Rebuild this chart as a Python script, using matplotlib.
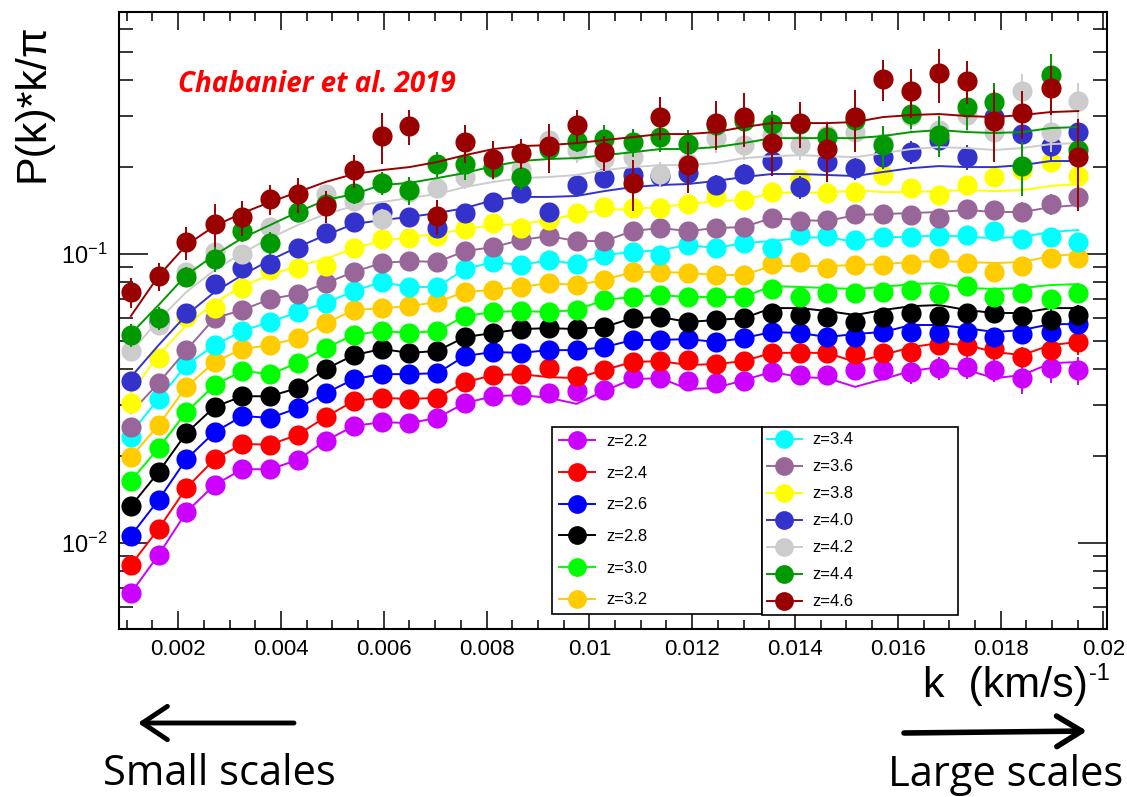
import numpy as np
import matplotlib
matplotlib.use('Agg')
import matplotlib.pyplot as plt
from matplotlib.lines import Line2D
from matplotlib.ticker import FixedLocator, FixedFormatter, LogLocator, NullFormatter

plt.rcParams['font.family'] = ['Liberation Sans', 'DejaVu Sans']
plt.rcParams['mathtext.fontset'] = 'custom'
plt.rcParams['mathtext.rm'] = 'Liberation Sans'

# k bins (s/km)
k = [0.00108, 0.00162, 0.00216, 0.00271, 0.00325, 0.00379, 0.00433, 0.00487,
     0.00542, 0.00596, 0.00650, 0.00704, 0.00758, 0.00813, 0.00867, 0.00921,
     0.00975, 0.01029, 0.01084, 0.01138, 0.01192, 0.01246, 0.01300, 0.01355,
     0.01409, 0.01463, 0.01517, 0.01571, 0.01626, 0.01680, 0.01734, 0.01788,
     0.01842, 0.01897, 0.01951]

redshifts = ['2.2', '2.4', '2.6', '2.8', '3.0', '3.2', '3.4', '3.6', '3.8', '4.0', '4.2', '4.4', '4.6']
colors = ['#cc00ff', '#ff0000', '#0000ff', '#000000', '#00ff00', '#ffcc00', '#00ffff',
          '#996699', '#ffff00', '#3333cc', '#cccccc', '#009900', '#990000']

# measured P(k)*k/pi
pk_22 = [0.00671, 0.00909, 0.0128, 0.0159, 0.0180, 0.0180, 0.0194, 0.0226, 0.0254, 0.0262,
         0.0260, 0.0271, 0.0305, 0.0322, 0.0325, 0.0330, 0.0336, 0.0338, 0.0372, 0.0372,
         0.0363, 0.0358, 0.0363, 0.0391, 0.0381, 0.0381, 0.0397, 0.0397, 0.0391, 0.0403,
         0.0406, 0.0397, 0.0372, 0.0403, 0.0397]
pk_24 = [0.00839, 0.0112, 0.0155, 0.0195, 0.0220, 0.0219, 0.0237, 0.0273, 0.0310, 0.0318,
         0.0315, 0.0318, 0.0360, 0.0381, 0.0384, 0.0403, 0.0378, 0.0397, 0.0423, 0.0426,
         0.0430, 0.0416, 0.0426, 0.0455, 0.0455, 0.0455, 0.0451, 0.0455, 0.0458, 0.0484,
         0.0480, 0.0469, 0.0440, 0.0465, 0.0496]
pk_26 = [0.0106, 0.0141, 0.0195, 0.0242, 0.0275, 0.0271, 0.0293, 0.0330, 0.0369, 0.0384,
         0.0384, 0.0387, 0.0444, 0.0458, 0.0455, 0.0465, 0.0465, 0.0476, 0.0504, 0.0504,
         0.0508, 0.0496, 0.0512, 0.0537, 0.0533, 0.0516, 0.0516, 0.0537, 0.0537, 0.0533,
         0.0537, 0.0516, 0.0529, 0.0537, 0.0572]
pk_28 = [0.0134, 0.0176, 0.0240, 0.0296, 0.0322, 0.0322, 0.0344, 0.0400, 0.0447, 0.0469,
         0.0455, 0.0462, 0.0516, 0.0533, 0.0550, 0.0554, 0.0550, 0.0559, 0.0600, 0.0605,
         0.0582, 0.0591, 0.0600, 0.0625, 0.0615, 0.0605, 0.0582, 0.0605, 0.0625, 0.0610,
         0.0625, 0.0625, 0.0610, 0.0591, 0.0615]
pk_30 = [0.0164, 0.0213, 0.0284, 0.0352, 0.0394, 0.0384, 0.0420, 0.0473, 0.0525, 0.0542,
         0.0533, 0.0542, 0.0610, 0.0630, 0.0635, 0.0630, 0.0640, 0.0694, 0.0710, 0.0721,
         0.0710, 0.0710, 0.0710, 0.0757, 0.0710, 0.0733, 0.0733, 0.0739, 0.0751, 0.0727,
         0.0775, 0.0710, 0.0733, 0.0699, 0.0733]
pk_32 = [0.0198, 0.0256, 0.0347, 0.0423, 0.0469, 0.0484, 0.0512, 0.0577, 0.0640, 0.0650,
         0.0660, 0.0682, 0.0739, 0.0751, 0.0769, 0.0793, 0.0781, 0.0813, 0.0867, 0.0867,
         0.0860, 0.0846, 0.0846, 0.0923, 0.0938, 0.0894, 0.0916, 0.0916, 0.0923, 0.0969,
         0.0931, 0.0867, 0.0909, 0.0969, 0.0969]
pk_34 = [0.0232, 0.0315, 0.0413, 0.0484, 0.0542, 0.0582, 0.0630, 0.0677, 0.0745, 0.0800,
         0.0769, 0.0769, 0.0887, 0.0938, 0.0916, 0.0953, 0.0923, 0.0992, 0.1016, 0.0992,
         0.1074, 0.1049, 0.1091, 0.1049, 0.1163, 0.1154, 0.1118, 0.1145, 0.1145, 0.1154,
         0.1163, 0.1201, 0.1127, 0.1145, 0.1100]
pk_36 = [0.0252, 0.0358, 0.0465, 0.0600, 0.0640, 0.0699, 0.0727, 0.0793, 0.0867, 0.0931,
         0.0946, 0.0938, 0.1024, 0.1057, 0.1118, 0.1154, 0.1109, 0.1109, 0.1201, 0.1230,
         0.1201, 0.1230, 0.1240, 0.1332, 0.1301, 0.1311, 0.1375, 0.1375, 0.1364, 0.1332,
         0.1431, 0.1420, 0.1398, 0.1489, 0.1576]
pk_38 = [0.0305, 0.0437, 0.0605, 0.0650, 0.0763, 0.0880, 0.0894, 0.0909, 0.1049, 0.1127,
         0.1136, 0.1154, 0.1220, 0.1280, 0.1230, 0.1311, 0.1386, 0.1454, 0.1442, 0.1442,
         0.1489, 0.1576, 0.1537, 0.1638, 0.1818, 0.1625, 0.1638, 0.1877, 0.1692, 0.1600,
         0.1733, 0.1847, 0.1952, 0.2082, 0.1862]
pk_40 = [0.0363, 0.0582, 0.0625, 0.0787, 0.0894, 0.0923, 0.1049, 0.1182, 0.1290, 0.1398,
         0.1343, 0.1230, 0.1386, 0.1513, 0.1625, 0.1398, 0.1733, 0.1832, 0.1877, 0.1862,
         0.1907, 0.1733, 0.1892, 0.2098, 0.1705, 0.2082, 0.1983, 0.2164, 0.2251, 0.2478,
         0.2164, 0.2978, 0.2601, 0.2363, 0.2643]
pk_42 = [0.0462, 0.0568, 0.0867, 0.1016, 0.1000, 0.1240, 0.1398, 0.1613, 0.1525, 0.1321,
         0.1638, 0.1692, 0.1847, 0.1983, 0.1968, 0.2478, 0.2291, 0.2132, 0.2164, 0.1892,
         0.2066, 0.2518, 0.2382, 0.2580, 0.2382, 0.2580, 0.2643, 0.2420, 0.3003, 0.2685,
         0.3027, 0.2643, 0.3662, 0.2643, 0.3385]
pk_44 = [0.0525, 0.0600, 0.0833, 0.0961, 0.1201, 0.1091, 0.1398, 0.1489, 0.1625, 0.1762,
         0.1664, 0.2048, 0.2048, 0.1999, 0.1847, 0.2308, 0.2458, 0.2498, 0.2439, 0.2539,
         0.2401, 0.2794, 0.2885, 0.2817, 0.2817, 0.2539, 0.2908, 0.2382, 0.3051, 0.2580,
         0.3226, 0.3357, 0.2015, 0.4160, 0.2291]
pk_46 = [0.0739, 0.0840, 0.1100, 0.1270, 0.1343, 0.1550, 0.1613, 0.1467, 0.1952, 0.2560,
         0.2771, 0.1354, 0.2439, 0.2132, 0.2234, 0.2363, 0.2794, 0.2251, 0.1762, 0.2978,
         0.2031, 0.2839, 0.2978, 0.2420, 0.2839, 0.2308, 0.2978, 0.4032, 0.3662, 0.4229,
         0.3970, 0.2885, 0.3075, 0.3752, 0.2164]

# relative uncertainties
err_22 = [0.02, 0.02, 0.02, 0.02, 0.02, 0.02, 0.02, 0.03, 0.03, 0.03, 0.03, 0.03, 0.03, 0.03,
          0.03, 0.04, 0.04, 0.04, 0.04, 0.04, 0.05, 0.05, 0.05, 0.05, 0.05, 0.06, 0.07, 0.065,
          0.09, 0.09, 0.09, 0.09, 0.12, 0.11, 0.11]
err_24 = [0.02, 0.02, 0.02, 0.02, 0.02, 0.02, 0.02, 0.02, 0.03, 0.03, 0.03, 0.03, 0.03, 0.03,
          0.03, 0.03, 0.04, 0.04, 0.04, 0.04, 0.04, 0.05, 0.05, 0.05, 0.05, 0.05, 0.06, 0.06,
          0.07, 0.07, 0.07, 0.08, 0.08, 0.08, 0.10]
err_26 = [0.02, 0.02, 0.02, 0.02, 0.02, 0.02, 0.02, 0.02, 0.02, 0.03, 0.03, 0.03, 0.03, 0.03,
          0.03, 0.03, 0.03, 0.04, 0.04, 0.04, 0.04, 0.04, 0.04, 0.05, 0.05, 0.05, 0.05, 0.05,
          0.06, 0.06, 0.06, 0.06, 0.07, 0.07, 0.07]
err_28 = [0.02, 0.02, 0.02, 0.02, 0.02, 0.02, 0.02, 0.02, 0.03, 0.03, 0.03, 0.03, 0.03, 0.03,
          0.03, 0.03, 0.04, 0.04, 0.04, 0.04, 0.04, 0.04, 0.05, 0.05, 0.05, 0.05, 0.05, 0.05,
          0.06, 0.06, 0.06, 0.07, 0.07, 0.09, 0.08]
err_30 = [0.02, 0.02, 0.02, 0.02, 0.02, 0.02, 0.02, 0.02, 0.02, 0.03, 0.03, 0.03, 0.03, 0.03,
          0.03, 0.03, 0.03, 0.04, 0.04, 0.04, 0.04, 0.04, 0.04, 0.05, 0.05, 0.05, 0.05, 0.05,
          0.05, 0.06, 0.06, 0.06, 0.07, 0.07, 0.08]
err_32 = [0.02, 0.02, 0.02, 0.02, 0.02, 0.02, 0.03, 0.03, 0.03, 0.03, 0.03, 0.03, 0.03, 0.03,
          0.04, 0.04, 0.04, 0.04, 0.04, 0.04, 0.05, 0.05, 0.05, 0.05, 0.05, 0.05, 0.06, 0.06,
          0.06, 0.06, 0.06, 0.07, 0.07, 0.07, 0.07]
err_34 = [0.02, 0.02, 0.02, 0.02, 0.02, 0.03, 0.03, 0.03, 0.03, 0.03, 0.03, 0.03, 0.04, 0.04,
          0.04, 0.04, 0.04, 0.04, 0.05, 0.05, 0.05, 0.05, 0.05, 0.05, 0.06, 0.06, 0.06, 0.06,
          0.06, 0.07, 0.07, 0.07, 0.07, 0.07, 0.07]
err_36 = [0.02, 0.02, 0.02, 0.03, 0.03, 0.03, 0.03, 0.03, 0.03, 0.03, 0.04, 0.04, 0.04, 0.04,
          0.04, 0.04, 0.05, 0.05, 0.05, 0.05, 0.05, 0.05, 0.06, 0.06, 0.06, 0.06, 0.06, 0.06,
          0.07, 0.07, 0.07, 0.07, 0.08, 0.08, 0.08]
err_38 = [0.03, 0.03, 0.03, 0.03, 0.03, 0.03, 0.03, 0.03, 0.04, 0.04, 0.04, 0.04, 0.04, 0.04,
          0.04, 0.05, 0.05, 0.05, 0.05, 0.05, 0.05, 0.05, 0.06, 0.06, 0.06, 0.06, 0.06, 0.06,
          0.07, 0.07, 0.07, 0.07, 0.08, 0.08, 0.08]
err_40 = [0.04, 0.04, 0.04, 0.04, 0.05, 0.05, 0.05, 0.05, 0.05, 0.05, 0.06, 0.06, 0.06, 0.06,
          0.06, 0.06, 0.07, 0.07, 0.07, 0.07, 0.07, 0.08, 0.08, 0.08, 0.09, 0.09, 0.09, 0.09,
          0.09, 0.10, 0.10, 0.10, 0.11, 0.12, 0.12]
err_42 = [0.06, 0.07, 0.07, 0.08, 0.07, 0.07, 0.07, 0.07, 0.07, 0.08, 0.08, 0.08, 0.09, 0.09,
          0.09, 0.10, 0.10, 0.10, 0.10, 0.10, 0.11, 0.11, 0.11, 0.11, 0.11, 0.12, 0.12, 0.12,
          0.12, 0.13, 0.13, 0.14, 0.15, 0.15, 0.15]
err_44 = [0.09, 0.09, 0.08, 0.10, 0.08, 0.09, 0.08, 0.08, 0.08, 0.09, 0.11, 0.10, 0.12, 0.09,
          0.10, 0.09, 0.08, 0.12, 0.11, 0.11, 0.12, 0.12, 0.12, 0.11, 0.11, 0.12, 0.13, 0.16,
          0.11, 0.16, 0.17, 0.16, 0.21, 0.18, 0.14]
err_46 = [0.12, 0.11, 0.13, 0.17, 0.14, 0.12, 0.14, 0.13, 0.13, 0.20, 0.14, 0.14, 0.15, 0.15,
          0.12, 0.19, 0.13, 0.14, 0.20, 0.17, 0.20, 0.19, 0.21, 0.23, 0.18, 0.23, 0.24, 0.16,
          0.19, 0.21, 0.17, 0.28, 0.19, 0.19, 0.35]

# model curves
fit_22 = [0.00671, 0.00909, 0.0128, 0.0159, 0.0180, 0.0180, 0.0194, 0.0226, 0.0254, 0.0262,
          0.0260, 0.0271, 0.0305, 0.0322, 0.0325, 0.0318, 0.0303, 0.0336, 0.0369, 0.0372,
          0.0341, 0.0344, 0.0366, 0.0391, 0.0375, 0.0372, 0.0347, 0.0369, 0.0394, 0.0406,
          0.0397, 0.0372, 0.0381, 0.0419, 0.0423]
fit_24 = [0.00839, 0.0112, 0.0155, 0.0195, 0.0220, 0.0219, 0.0237, 0.0273, 0.0310, 0.0318,
          0.0315, 0.0318, 0.0360, 0.0381, 0.0384, 0.0375, 0.0372, 0.0397, 0.0423, 0.0426,
          0.0413, 0.0416, 0.0426, 0.0455, 0.0455, 0.0455, 0.0423, 0.0447, 0.0476, 0.0492,
          0.0484, 0.0458, 0.0447, 0.0484, 0.0496]
fit_26 = [0.0106, 0.0141, 0.0195, 0.0242, 0.0275, 0.0271, 0.0293, 0.0330, 0.0369, 0.0384,
          0.0384, 0.0387, 0.0444, 0.0458, 0.0455, 0.0465, 0.0465, 0.0476, 0.0504, 0.0504,
          0.0508, 0.0496, 0.0512, 0.0537, 0.0533, 0.0516, 0.0529, 0.0537, 0.0568, 0.0568,
          0.0554, 0.0537, 0.0546, 0.0572, 0.0572]
fit_28 = [0.0134, 0.0176, 0.0240, 0.0296, 0.0322, 0.0322, 0.0344, 0.0400, 0.0447, 0.0469,
          0.0455, 0.0462, 0.0516, 0.0533, 0.0550, 0.0554, 0.0550, 0.0559, 0.0600, 0.0605,
          0.0582, 0.0591, 0.0600, 0.0650, 0.0650, 0.0635, 0.0615, 0.0640, 0.0660, 0.0666,
          0.0640, 0.0625, 0.0625, 0.0650, 0.0650]
fit_30 = [0.0164, 0.0213, 0.0284, 0.0352, 0.0394, 0.0384, 0.0420, 0.0473, 0.0525, 0.0542,
          0.0533, 0.0542, 0.0610, 0.0630, 0.0635, 0.0630, 0.0640, 0.0694, 0.0710, 0.0721,
          0.0710, 0.0710, 0.0710, 0.0775, 0.0769, 0.0763, 0.0757, 0.0769, 0.0787, 0.0793,
          0.0763, 0.0757, 0.0763, 0.0781, 0.0787]
fit_32 = [0.0198, 0.0256, 0.0347, 0.0423, 0.0469, 0.0484, 0.0512, 0.0577, 0.0640, 0.0650,
          0.0660, 0.0682, 0.0739, 0.0751, 0.0769, 0.0793, 0.0781, 0.0813, 0.0867, 0.0867,
          0.0860, 0.0846, 0.0846, 0.0909, 0.0909, 0.0909, 0.0916, 0.0923, 0.0938, 0.0946,
          0.0938, 0.0931, 0.0938, 0.0984, 0.1000]
fit_34 = [0.0240, 0.0315, 0.0413, 0.0484, 0.0542, 0.0582, 0.0630, 0.0677, 0.0745, 0.0800,
          0.0769, 0.0769, 0.0887, 0.0938, 0.0916, 0.0953, 0.0923, 0.0992, 0.1016, 0.1032,
          0.1074, 0.1049, 0.1091, 0.1109, 0.1136, 0.1145, 0.1100, 0.1145, 0.1145, 0.1163,
          0.1145, 0.1136, 0.1145, 0.1192, 0.1211]
fit_36 = [0.0282, 0.0358, 0.0465, 0.0600, 0.0640, 0.0699, 0.0727, 0.0793, 0.0867, 0.0931,
          0.0946, 0.0938, 0.1024, 0.1057, 0.1118, 0.1154, 0.1109, 0.1109, 0.1201, 0.1230,
          0.1201, 0.1230, 0.1240, 0.1332, 0.1311, 0.1301, 0.1364, 0.1375, 0.1386, 0.1398,
          0.1420, 0.1398, 0.1398, 0.1452, 0.1477]
fit_38 = [0.0330, 0.0447, 0.0568, 0.0677, 0.0775, 0.0846, 0.0909, 0.0961, 0.1049, 0.1109,
          0.1145, 0.1173, 0.1220, 0.1260, 0.1270, 0.1311, 0.1375, 0.1420, 0.1431, 0.1454,
          0.1489, 0.1525, 0.1537, 0.1625, 0.1638, 0.1625, 0.1664, 0.1638, 0.1638, 0.1651,
          0.1664, 0.1651, 0.1664, 0.1719, 0.1747]
fit_40 = [0.0375, 0.0484, 0.0615, 0.0739, 0.0846, 0.0953, 0.1057, 0.1163, 0.1270, 0.1311,
          0.1343, 0.1386, 0.1442, 0.1537, 0.1576, 0.1576, 0.1588, 0.1651, 0.1705, 0.1733,
          0.1747, 0.1790, 0.1847, 0.1892, 0.1892, 0.1877, 0.1862, 0.1922, 0.1983, 0.2015,
          0.1999, 0.1999, 0.2031, 0.2098, 0.2098]
fit_42 = [0.0458, 0.0591, 0.0739, 0.0880, 0.1008, 0.1136, 0.1260, 0.1375, 0.1467, 0.1513,
          0.1563, 0.1613, 0.1705, 0.1776, 0.1832, 0.1847, 0.1877, 0.1952, 0.1999, 0.2031,
          0.2031, 0.2066, 0.2148, 0.2181, 0.2198, 0.2181, 0.2164, 0.2234, 0.2308, 0.2345,
          0.2327, 0.2291, 0.2327, 0.2401, 0.2420]
fit_44 = [0.0529, 0.0666, 0.0846, 0.0992, 0.1136, 0.1260, 0.1398, 0.1537, 0.1613, 0.1733,
          0.1762, 0.1832, 0.1907, 0.2015, 0.2098, 0.2132, 0.2148, 0.2198, 0.2251, 0.2308,
          0.2308, 0.2345, 0.2420, 0.2518, 0.2518, 0.2518, 0.2518, 0.2560, 0.2643, 0.2685,
          0.2643, 0.2622, 0.2643, 0.2728, 0.2750]
fit_46 = [0.0610, 0.0840, 0.1074, 0.1250, 0.1386, 0.1513, 0.1638, 0.1776, 0.1892, 0.1952,
          0.1999, 0.2082, 0.2198, 0.2308, 0.2363, 0.2382, 0.2420, 0.2478, 0.2539, 0.2601,
          0.2601, 0.2643, 0.2750, 0.2839, 0.2839, 0.2839, 0.2862, 0.2978, 0.3027, 0.3051,
          0.3003, 0.2978, 0.3027, 0.3099, 0.3124]

pk_all = [pk_22, pk_24, pk_26, pk_28, pk_30, pk_32, pk_34, pk_36, pk_38, pk_40, pk_42, pk_44, pk_46]
err_all = [err_22, err_24, err_26, err_28, err_30, err_32, err_34, err_36, err_38, err_40, err_42, err_44, err_46]
fit_all = [fit_22, fit_24, fit_26, fit_28, fit_30, fit_32, fit_34, fit_36, fit_38, fit_40, fit_42, fit_44, fit_46]

xtick_vals = [0.002, 0.004, 0.006, 0.008, 0.010, 0.012, 0.014, 0.016, 0.018, 0.020]
xtick_labels = ['0.002', '0.004', '0.006', '0.008', '0.01', '0.012', '0.014', '0.016', '0.018', '0.02']

fig = plt.figure(figsize=(11.27, 7.97), dpi=100)
ax = fig.add_axes([0.1056, 0.2108, 0.8767, 0.7741])

ms = 14.5
for j in range(len(redshifts)):
    kk = np.array(k)
    p = np.array(pk_all[j])
    e = p * np.array(err_all[j])
    c = colors[j]
    zo = 2 + 0.1 * j
    ax.plot(kk, fit_all[j], color=c, lw=1.4, zorder=zo)
    ax.errorbar(kk, p, yerr=e, fmt='o', ms=ms, color=c, mec=c, mew=0,
                ecolor=c, elinewidth=1.4, capsize=4.5, capthick=1.4, zorder=zo)

ax.set_yscale('log')
ax.set_xlim(0.00085, 0.02007)
ax.set_ylim(0.00504, 0.6877)

ax.xaxis.set_major_locator(FixedLocator(xtick_vals))
ax.xaxis.set_major_formatter(FixedFormatter(xtick_labels))
ax.xaxis.set_minor_locator(FixedLocator(np.arange(0.001, 0.0201, 0.0005)))
ax.yaxis.set_major_locator(FixedLocator([0.01, 0.1]))
ax.yaxis.set_major_formatter(FixedFormatter([r'$\mathregular{10^{-2}}$', r'$\mathregular{10^{-1}}$']))
ax.yaxis.set_minor_locator(LogLocator(base=10, subs=np.arange(2, 10)))
ax.yaxis.set_minor_formatter(NullFormatter())

ax.tick_params(axis='both', which='both', direction='in', top=True, right=True, width=1.1)
ax.tick_params(axis='x', which='major', length=13, labelsize=16, pad=7)
ax.tick_params(axis='x', which='minor', length=6.5)
ax.tick_params(axis='y', which='major', length=21, labelsize=17, pad=8)
ax.tick_params(axis='y', which='minor', length=10)
for sp in ax.spines.values():
    sp.set_linewidth(1.5)

# legend, split in two boxes
font = {'family': 'Liberation Sans', 'size': 12}
h_left = [Line2D([], [], color=colors[j], marker='o', ms=ms - 1, mew=0, lw=1.4) for j in range(6)]
h_right = [Line2D([], [], color=colors[j], marker='o', ms=ms - 1, mew=0, lw=1.4) for j in range(6, 13)]
lab_left = ['z=' + z for z in redshifts[:6]]
lab_right = ['z=' + z for z in redshifts[6:]]

leg1 = ax.legend(h_left, lab_left, loc='upper left', bbox_to_anchor=(0.4383, 0.0259, 0.2125, 0.3015),
                 mode='expand', borderaxespad=0, borderpad=0.42, labelspacing=1.0,
                 handlelength=2.15, handletextpad=0.7, prop=font, fancybox=False,
                 edgecolor='black', framealpha=1)
leg1.get_frame().set_linewidth(1.2)
ax.add_artist(leg1)
leg2 = ax.legend(h_right, lab_right, loc='upper left', bbox_to_anchor=(0.6508, 0.0259, 0.1984, 0.3015),
                 mode='expand', borderaxespad=0, borderpad=0.32, labelspacing=0.72,
                 handlelength=2.05, handletextpad=0.66, prop=font, fancybox=False,
                 edgecolor='black', framealpha=1)
leg2.get_frame().set_linewidth(1.2)

# labels
fig.text(33 / 1127, 1 - 23 / 797, 'P(k)*k/\u03c0', rotation=90, ha='center', va='top', fontsize=31)
fig.text(1088 / 1127, 1 - 697 / 797, 'k  (km/s)', ha='right', va='baseline', fontsize=31)
fig.text(1089 / 1127, 1 - 680 / 797, '-1', ha='left', va='baseline', fontsize=17)
fig.text(178 / 1127, 1 - 92 / 797, 'Chabanier et al. 2019', color='red', fontsize=20,
         fontweight='bold', fontstyle='italic', family='Open Sans', va='baseline')

fig.text(103 / 1127, 1 - 785 / 797, 'Small scales', fontsize=30, family='Open Sans', va='baseline')
fig.text(888 / 1127, 1 - 786 / 797, 'Large scales', fontsize=30, family='Open Sans', va='baseline')

# direction arrows
ax.annotate('', xy=(138 / 1127, 1 - 723 / 797), xytext=(294 / 1127, 1 - 723 / 797),
            xycoords='figure fraction', textcoords='figure fraction',
            arrowprops=dict(arrowstyle='->,head_length=0.9,head_width=0.6', lw=3.5,
                            color='black', mutation_scale=20, shrinkA=0, shrinkB=0,
                            capstyle='round', joinstyle='round'))
ax.annotate('', xy=(1087 / 1127, 1 - 731 / 797), xytext=(904 / 1127, 1 - 733 / 797),
            xycoords='figure fraction', textcoords='figure fraction',
            arrowprops=dict(arrowstyle='->,head_length=0.9,head_width=0.55', lw=4,
                            color='black', mutation_scale=20, shrinkA=0, shrinkB=0,
                            capstyle='round', joinstyle='round'))

fig.savefig('out.png', dpi=100)
